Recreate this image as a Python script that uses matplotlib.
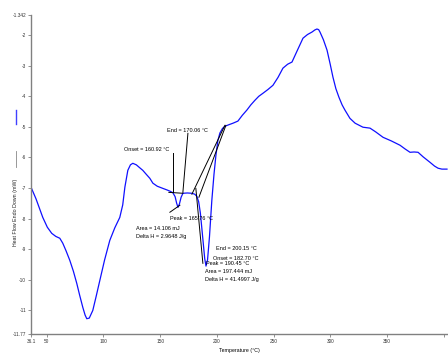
import matplotlib.pyplot as plt
from matplotlib.lines import Line2D

plt.rcParams['font.family'] = ['Liberation Sans', 'DejaVu Sans']

# DSC trace: temperature (°C) vs heat flow (mW)
temp = [36.1, 40.5, 46.5, 50.5, 54.4, 58.0, 61.5, 64.1, 67.0, 70.3, 73.5, 76.5, 79.0, 81.8,
        83.8, 85.3, 87.5, 90.6, 93.5, 96.8, 101.0, 105.6, 110.0, 114.4, 117.0, 118.9,
        121.5, 123.8, 125.9, 129.0, 131.5, 134.7, 138.0, 140.9, 143.6, 147.5, 152.4,
        156.0, 158.6, 161.2, 163.2, 164.6, 165.76, 167.0, 168.5, 170.1, 174.0, 178.0,
        180.5, 182.4, 184.0, 185.5, 187.8, 189.3, 190.45, 191.8, 193.5, 195.6, 197.5,
        199.2, 200.9, 202.7, 205.0, 207.1, 210.5, 214.2, 218.6, 222.5, 226.5, 230.0,
        233.6, 237.0, 240.7, 245.0, 249.5, 254.0, 258.3, 262.5, 266.3, 271.0, 276.0,
        280.0, 283.9, 286.5, 288.3, 289.8, 291.0, 294.0, 297.2, 300.0, 302.4, 305.0,
        307.7, 310.5, 313.0, 317.4, 322.0, 328.9, 335.1, 340.0, 346.6, 354.0, 361.6,
        366.0, 370.4, 374.0, 377.5, 382.0, 388.1, 392.0, 395.1, 398.5, 403.0]
heat_flow = [-6.97, -7.35, -7.96, -8.28, -8.48, -8.58, -8.64, -8.80, -9.05, -9.36, -9.72,
             -10.12, -10.50, -10.90, -11.15, -11.27, -11.25, -11.00, -10.55, -10.02, -9.35,
             -8.71, -8.30, -7.96, -7.55, -6.97, -6.42, -6.24, -6.19, -6.24, -6.32, -6.42,
             -6.56, -6.68, -6.84, -6.94, -7.01, -7.06, -7.10, -7.15, -7.28, -7.50, -7.63,
             -7.52, -7.30, -7.17, -7.16, -7.17, -7.20, -7.27, -7.45, -7.82, -8.71, -9.30,
             -9.55, -9.35, -8.60, -7.40, -6.55, -5.93, -5.45, -5.20, -5.05, -4.98, -4.93,
             -4.88, -4.81, -4.62, -4.45, -4.28, -4.13, -4.00, -3.90, -3.78, -3.64, -3.38,
             -3.08, -2.95, -2.88, -2.50, -2.10, -1.98, -1.90, -1.83, -1.80, -1.82, -1.90,
             -2.15, -2.49, -2.95, -3.37, -3.75, -4.03, -4.28, -4.45, -4.72, -4.88, -5.01,
             -5.04, -5.16, -5.34, -5.46, -5.60, -5.72, -5.83, -5.82, -5.83, -5.98, -6.16,
             -6.28, -6.35, -6.38, -6.38]

x_ticks = [36.1, 50, 100, 150, 200, 250, 300, 350, 400]
x_labels = ['36.1', '50', '100', '150', '200', '250', '300', '350', '']
y_ticks = [-1.342, -2, -3, -4, -5, -6, -7, -8, -9, -10, -11, -11.77]
y_labels = ['-1.342', '-2', '-3', '-4', '-5', '-6', '-7', '-8', '-9', '-10', '-11', '-11.77']

# event analysis results
onset1, end1, peak1 = 160.92, 170.06, 165.76
onset2, end2, peak2 = 182.70, 200.15, 190.45
area1, dh1 = '14.106', '2.9648'
area2, dh2 = '197.444', '41.4997'

fig = plt.figure(figsize=(4.48, 3.54), dpi=100)
ax = fig.add_axes([31 / 448, 20 / 354, 417 / 448, 319 / 354])
ax.plot(temp, heat_flow, color='#1010ff', lw=0.9)

ax.set_xlim(36.1, 403.9)
ax.set_ylim(-11.77, -1.342)
ax.set_xticks(x_ticks)
ax.set_xticklabels(x_labels)
ax.set_yticks(y_ticks)
ax.set_yticklabels(y_labels)
ax.tick_params(labelsize=3.4, length=2, width=0.6, color='#808080', labelcolor='#333333', pad=1.5)
for s in ['top', 'right']:
    ax.spines[s].set_visible(False)
for s in ['left', 'bottom']:
    ax.spines[s].set_color('#808080')
    ax.spines[s].set_linewidth(1.0)

lk = dict(color='black', lw=0.7)
# first event: onset, end, baseline and peak leader
ax.plot([onset1, onset1], [-5.86, -7.14], **lk)
ax.plot([174.5, end1], [-5.21, -7.14], **lk)
ax.plot([157.7, 170.1], [-7.14, -7.17], **lk)
ax.plot([158.6, 167.4], [-7.79, -7.56], **lk)
# second event: baseline, tangents
ax.plot([178.0, 207.1], [-7.20, -4.95], **lk)
ax.plot([184.2, 208.0], [-7.30, -4.95], **lk)
ax.plot([181.5, 187.7], [-7.01, -9.46], **lk)

tk = dict(fontsize=4, color='black')
ax.text(138, -5.73, 'Onset = %.2f °C' % onset1, ha='center', va='center', **tk)
ax.text(174, -5.11, 'End = %.2f °C' % end1, ha='center', va='center', **tk)
ax.text(158.6, -7.99, 'Peak = %.2f °C' % peak1, ha='left', va='center', **tk)
ax.text(128.6, -8.32, 'Area = %s mJ' % area1, ha='left', va='center', **tk)
ax.text(128.6, -8.58, 'Delta H = %s J/g' % dh1, ha='left', va='center', **tk)

ax.text(199.0, -8.96, 'End = %.2f °C' % end2, ha='left', va='center', **tk)
ax.text(196.5, -9.29, 'Onset = %.2f °C' % onset2, ha='left', va='center', **tk)
ax.text(190.5, -9.45, 'Peak = %.2f °C' % peak2, ha='left', va='center', **tk)
ax.text(189.5, -9.74, 'Area = %s mJ' % area2, ha='left', va='center', **tk)
ax.text(189.5, -10.0, 'Delta H = %s J/g' % dh2, ha='left', va='center', **tk)

ax.set_xlabel('Temperature (°C)', fontsize=3.8, labelpad=3)
fig.text(16 / 448, 1 - 212 / 354, 'Heat Flow Endo Down (mW)', rotation=90,
         ha='center', va='center', fontsize=3.8, color='#222222')
fig.add_artist(Line2D([16 / 448, 16 / 448], [1 - 167 / 354, 1 - 151 / 354],
                      color='#888888', lw=0.6))
fig.add_artist(Line2D([16 / 448, 16 / 448], [1 - 124 / 354, 1 - 110 / 354],
                      color='#4040ff', lw=1.0))

fig.savefig('out.png', dpi=100)
